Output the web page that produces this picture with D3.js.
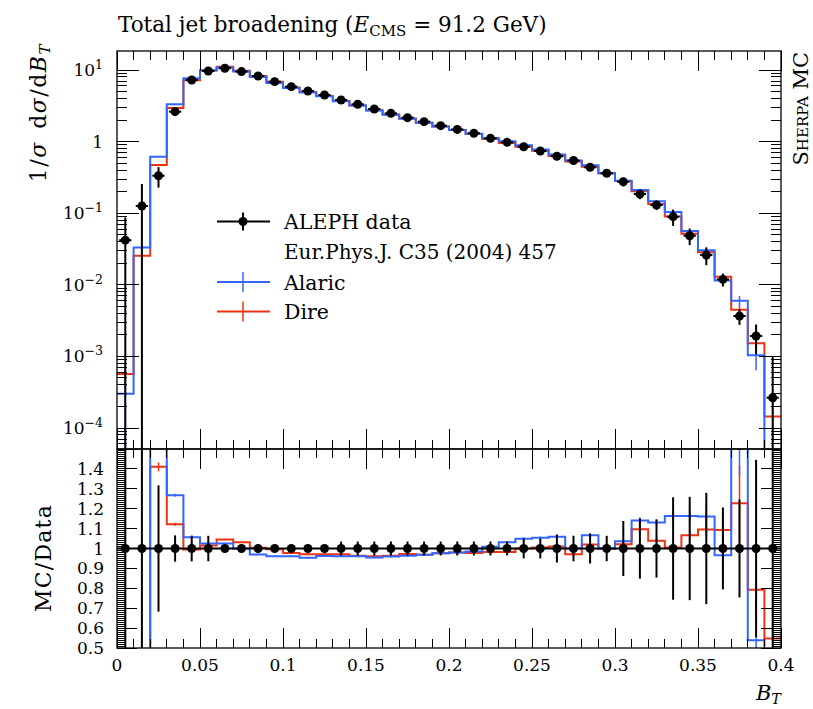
<!DOCTYPE html>
<html><head><meta charset="utf-8">
<script src="https://cdn.jsdelivr.net/npm/d3@7"></script>
<style>
body{margin:0;background:#fff}
svg text{font-family:"DejaVu Serif","Liberation Serif",serif;fill:#000}
</style>
</head><body>
<svg id="c" width="813" height="709"></svg>
<script>
// ---------------- data ----------------
const binLow = [0.00,0.01,0.02,0.03,0.04,0.05,0.06,0.07,0.08,0.09,
                0.10,0.11,0.12,0.13,0.14,0.15,0.16,0.17,0.18,0.19,
                0.20,0.21,0.22,0.23,0.24,0.25,0.26,0.27,0.28,0.29,
                0.30,0.31,0.32,0.33,0.34,0.35,0.36,0.37,0.38,0.39];
const binWidth = 0.01;
const alephData = [0.042,0.126,0.334,2.62,7.25,9.7,10.6,9.5,8.24,6.87,
                   5.85,5.1,4.48,3.81,3.32,2.85,2.48,2.16,1.90,1.67,
                   1.48,1.31,1.11,0.977,0.849,0.739,0.625,0.545,0.438,0.361,
                   0.275,0.185,0.130,0.0894,0.0485,0.0261,0.0119,0.00366,0.00193,0.000265];
const alephErr  = [0.045,0.13,0.106,0.173,0.47,0.62,0.11,0.10,0.085,0.07,
                   0.06,0.055,0.09,0.133,0.116,0.10,0.087,0.076,0.066,0.058,
                   0.052,0.046,0.039,0.034,0.042,0.037,0.044,0.035,0.033,0.023,
                   0.038,0.028,0.019,0.023,0.0126,0.0073,0.00245,0.0009,0.00086,0.00075];
const alaric    = [0.0003,0.0333,0.615,3.32,7.66,9.94,10.87,9.5,7.99,6.60,
                   5.62,4.86,4.31,3.66,3.19,2.72,2.38,2.08,1.84,1.63,
                   1.45,1.29,1.12,1.008,0.891,0.779,0.662,0.545,0.467,0.361,
                   0.285,0.211,0.147,0.104,0.0564,0.0303,0.0115,0.0060,0.00104,0];
const alaricErr = [0.00031,0.002,0.008,0.02,0.03,0.035,0.035,0.03,0.03,0.025,
                   0.02,0.02,0.018,0.015,0.013,0.012,0.011,0.01,0.009,0.008,
                   0.008,0.007,0.007,0.006,0.006,0.005,0.005,0.005,0.004,0.004,
                   0.003,0.0028,0.002,0.002,0.0015,0.0015,0.0011,0.001,0.0004,0];
const dire      = [0.00057,0.0255,0.471,2.94,7.21,9.85,11.08,9.80,8.27,6.84,
                   5.72,4.95,4.35,3.70,3.20,2.74,2.39,2.10,1.84,1.63,
                   1.45,1.28,1.09,0.960,0.849,0.743,0.631,0.529,0.447,0.361,
                   0.281,0.203,0.135,0.0898,0.0517,0.0286,0.0130,0.00449,0.00153,0.000145];
const direErr   = [0.0002,0.0015,0.0075,0.02,0.03,0.035,0.035,0.03,0.03,0.025,
                   0.02,0.02,0.018,0.015,0.013,0.012,0.011,0.01,0.009,0.008,
                   0.008,0.007,0.007,0.006,0.006,0.005,0.005,0.005,0.004,0.004,
                   0.003,0.003,0.002,0.0018,0.0012,0.001,0.0007,0.0007,0.0003,0.00008];
const xTickLabels = ["0","0.05","0.1","0.15","0.2","0.25","0.3","0.35","0.4"];
const mainYTicks = [1e-4,1e-3,1e-2,1e-1,1,10];
const mainYTickLabels = [["10","−4"],["10","−3"],["10","−2"],["10","−1"],["1",""],["10","1"]];
const ratioYTicks = [0.5,0.6,0.7,0.8,0.9,1.0,1.1,1.2,1.3,1.4];
const ratioYTickLabels = ["0.5","0.6","0.7","0.8","0.9","1","1.1","1.2","1.3","1.4"];
const legendEntries = [
  {name:"ALEPH data", sub:"Eur.Phys.J. C35 (2004) 457", color:"#000", kind:"data"},
  {name:"Alaric", color:"#3366FF", kind:"mc"},
  {name:"Dire", color:"#EE3311", kind:"mc"}
];

// ---------------- layout ----------------
const L=117, R=781, T=51, MB=449, RB=648;
const BLUE="#3366FF", RED="#EE3311";
const svg = d3.select("#c");
const x  = d3.scaleLinear().domain([0,0.4]).range([L,R]);
const y  = d3.scaleLog().domain([5.09e-5,18.43]).range([MB,T]);
const yr = d3.scaleLinear().domain([0.5,1.5]).range([RB,MB]);
const ys = v => y(Math.max(v,1e-9));

const defs = svg.append("defs");
defs.append("clipPath").attr("id","cm").append("rect").attr("x",L).attr("y",T).attr("width",R-L).attr("height",MB-T);
defs.append("clipPath").attr("id","cr").append("rect").attr("x",L).attr("y",MB).attr("width",R-L).attr("height",RB-MB);

const gM = svg.append("g").attr("clip-path","url(#cm)");
const gR = svg.append("g").attr("clip-path","url(#cr)");

function stepPath(vals, sy){
  const pts=[];
  vals.forEach((v,i)=>{pts.push([x(binLow[i]),sy(v)]);pts.push([x(binLow[i]+binWidth),sy(v)]);});
  return d3.line()(pts);
}
function drawMC(g, vals, errs, sy, color){
  g.append("path").attr("d",stepPath(vals,sy)).attr("fill","none").attr("stroke",color).attr("stroke-width",2);
  vals.forEach((v,i)=>{
    const e=errs[i]; if(!e||!v) return;
    const xc=x(binLow[i]+binWidth/2);
    g.append("line").attr("x1",xc).attr("x2",xc).attr("y1",sy(v+e)).attr("y2",sy(v-e)).attr("stroke",color).attr("stroke-width",1.5);
  });
}
// main panel MC
drawMC(gM, dire, direErr, ys, RED);
drawMC(gM, alaric, alaricErr, ys, BLUE);
// ratio panel MC
const rDire = dire.map((v,i)=>v/alephData[i]);
const rDireE = direErr.map((e,i)=>e/alephData[i]);
const rAl = alaric.map((v,i)=>v/alephData[i]);
const rAlE = alaricErr.map((e,i)=>e/alephData[i]);
const yrs = v => yr(Math.max(v,-5));
drawMC(gR, rDire, rDireE, yrs, RED);
drawMC(gR, rAl, rAlE, yrs, BLUE);

// data main
alephData.forEach((v,i)=>{
  const e=alephErr[i], lo=binLow[i], hi=lo+binWidth, xc=x(lo+binWidth/2);
  gM.append("line").attr("x1",xc).attr("x2",xc).attr("y1",ys(v+e)).attr("y2",ys(v-e)).attr("stroke","#000").attr("stroke-width",2);
  gM.append("line").attr("x1",x(lo+0.13*binWidth)).attr("x2",x(hi-0.13*binWidth)).attr("y1",ys(v)).attr("y2",ys(v)).attr("stroke","#000").attr("stroke-width",2);
  gM.append("circle").attr("cx",xc).attr("cy",ys(v)).attr("r",4.5).attr("fill","#000");
});
// data ratio
gR.append("line").attr("x1",x(0)).attr("x2",x(0.4)).attr("y1",yr(1)).attr("y2",yr(1)).attr("stroke","#000").attr("stroke-width",2);
alephData.forEach((v,i)=>{
  const re=alephErr[i]/v, xc=x(binLow[i]+binWidth/2);
  gR.append("line").attr("x1",xc).attr("x2",xc).attr("y1",yrs(1+re)).attr("y2",yrs(1-re)).attr("stroke","#000").attr("stroke-width",2);
  gR.append("circle").attr("cx",xc).attr("cy",yr(1)).attr("r",4.5).attr("fill","#000");
});

// ---------------- frames & ticks ----------------
const gA = svg.append("g").attr("stroke","#000").attr("shape-rendering","crispEdges");
function tick(x1,y1,x2,y2,w){gA.append("line").attr("x1",x1).attr("y1",y1).attr("x2",x2).attr("y2",y2).attr("stroke-width",w||1);}
[[T,MB],[MB,RB]].forEach(([t,b])=>{
  x.ticks(40).forEach(v=>{ const xx=x(v); tick(xx,b,xx,b-9); tick(xx,t,xx,t+9); });
  x.ticks(8).forEach(v=>{ const xx=x(v); tick(xx,b,xx,b-20); tick(xx,t,xx,t+20); });
});
// main y
y.ticks().forEach(v=>{
  const yy=y(v); if(yy<T||yy>MB) return;
  const major = Math.abs(Math.log10(v)-Math.round(Math.log10(v)))<1e-6;
  const len = major?22:10;
  tick(L,yy,L+len,yy); tick(R,yy,R-len,yy);
});
// ratio y
yr.ticks(100).forEach(v=>{ const yy=yr(v); tick(L,yy,L+8,yy); tick(R,yy,R-8,yy); });
yr.ticks(10).forEach(v=>{ const yy=yr(v); tick(L,yy,L+20,yy); tick(R,yy,R-20,yy); });
svg.append("rect").attr("x",L).attr("y",T).attr("width",R-L).attr("height",MB-T).attr("fill","none").attr("stroke","#000").attr("stroke-width",1.3);
svg.append("rect").attr("x",L).attr("y",MB).attr("width",R-L).attr("height",RB-MB).attr("fill","none").attr("stroke","#000").attr("stroke-width",1.3);

// tick labels
const FS=17;
x.ticks(8).forEach((v,i)=>{
  svg.append("text").attr("x",x(v)).attr("y",671).attr("text-anchor","middle").attr("font-size",FS).text(xTickLabels[i]);
});
mainYTicks.forEach((v,i)=>{
  const t = svg.append("text").attr("x",103).attr("y",y(v)+6).attr("text-anchor","end").attr("font-size",FS);
  t.append("tspan").text(mainYTickLabels[i][0]);
  if(mainYTickLabels[i][1]) t.append("tspan").attr("dy",-7).attr("font-size",12.5).text(mainYTickLabels[i][1]);
});
ratioYTicks.forEach((v,i)=>{
  svg.append("text").attr("x",104).attr("y",yr(v)+6).attr("text-anchor","end").attr("font-size",FS).text(ratioYTickLabels[i]);
});

// title
const tt = svg.append("text").attr("x",118).attr("y",32).attr("font-size",21.5);
tt.append("tspan").text("Total jet broadening (");
tt.append("tspan").attr("font-style","italic").text("E");
tt.append("tspan").attr("dy",4).attr("font-size",15).text("CMS");
tt.append("tspan").attr("dy",-4).text(" = 91.2 GeV)");

// axis labels
const yl = svg.append("text").attr("transform","translate(46,43) rotate(-90)").attr("text-anchor","end")
  .attr("font-size",22).attr("letter-spacing",1.5);
yl.append("tspan").text("1/");
yl.append("tspan").attr("font-style","italic").text("σ");
yl.append("tspan").text("\u2002d");
yl.append("tspan").attr("font-style","italic").text("σ");
yl.append("tspan").text("/d");
yl.append("tspan").attr("font-style","italic").text("B");
yl.append("tspan").attr("font-style","italic").attr("dy",4).attr("font-size",15).text("T");

svg.append("text").attr("transform","translate(51,558) rotate(-90)").attr("text-anchor","middle")
  .attr("font-size",22).attr("letter-spacing",1.2).text("MC/Data");

const xl = svg.append("text").attr("x",781).attr("y",700).attr("text-anchor","end").attr("font-size",21);
xl.append("tspan").attr("font-style","italic").text("B");
xl.append("tspan").attr("font-style","italic").attr("dy",4).attr("font-size",14.5).text("T");

svg.append("text").attr("transform","translate(808,52) rotate(-90)").attr("text-anchor","end").attr("font-size",21)
  .style("font-variant","small-caps").text("Sherpa MC");

// legend
const lx1=217, lx2=270, lxc=243, tx=284;
const rows=[221.5,282,311.5];
legendEntries.forEach((d,i)=>{
  const yy=rows[i];
  if(d.kind==="data"){
    svg.append("line").attr("x1",lx1).attr("x2",lx2).attr("y1",yy).attr("y2",yy).attr("stroke","#000").attr("stroke-width",2);
    svg.append("line").attr("x1",lxc).attr("x2",lxc).attr("y1",yy-9).attr("y2",yy+9).attr("stroke","#000").attr("stroke-width",2);
    svg.append("circle").attr("cx",lxc).attr("cy",yy).attr("r",4.5).attr("fill","#000");
  } else {
    svg.append("line").attr("x1",lx1).attr("x2",lx2).attr("y1",yy).attr("y2",yy).attr("stroke",d.color).attr("stroke-width",2);
    svg.append("line").attr("x1",lxc).attr("x2",lxc).attr("y1",yy-10).attr("y2",yy+10).attr("stroke",d.color).attr("stroke-width",1.5);
  }
  svg.append("text").attr("x",tx).attr("y",yy+7.5).attr("font-size",20.5).text(d.name);
  if(d.sub) svg.append("text").attr("x",tx).attr("y",yy+37).attr("font-size",20).text(d.sub);
});
</script>
</body></html>
